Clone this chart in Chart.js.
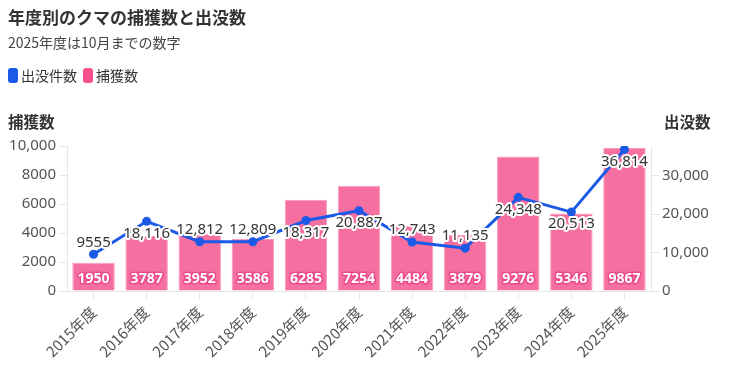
<!DOCTYPE html>
<html><head><meta charset="utf-8">
<script src="https://cdn.jsdelivr.net/npm/chart.js@4/dist/chart.umd.min.js"></script>
<style>
html,body{margin:0;padding:0;background:#fff;}
body{width:738px;height:368px;position:relative;overflow:hidden;font-family:"Noto Sans CJK JP","Noto Sans",sans-serif;color:#333;}
#title{position:absolute;left:8px;top:5px;font-size:17px;font-weight:bold;color:#333;line-height:24px;}
#sub{position:absolute;left:8px;top:32px;font-size:14px;color:#444;line-height:20px;}
#legend{position:absolute;left:8px;top:65px;font-size:14px;color:#333;line-height:20px;display:flex;align-items:center;}
.sw{display:inline-block;width:10px;height:15px;border-radius:3px;margin-right:3px;}
.it{display:flex;align-items:center;margin-right:6px;}
.at{position:absolute;top:111px;font-size:15.5px;font-weight:bold;color:#333;line-height:20px;}
canvas{position:absolute;left:0;top:0;}
</style></head>
<body>
<canvas id="c" width="738" height="368"></canvas>
<div id="title">年度別のクマの捕獲数と出没数</div>
<div id="sub">2025年度は10月までの数字</div>
<div id="legend"><span class="it"><span class="sw" style="background:#1a5ae6"></span>出没件数</span><span class="it"><span class="sw" style="background:#f7508f"></span>捕獲数</span></div>
<div class="at" style="left:8px">捕獲数</div>
<div class="at" style="left:664px">出没数</div>
<script>
const categories = ["2015年度","2016年度","2017年度","2018年度","2019年度","2020年度","2021年度","2022年度","2023年度","2024年度","2025年度"];
const captures = [1950,3787,3952,3586,6285,7254,4484,3879,9276,5346,9867];
const sightings = [9555,18116,12812,12809,18317,20887,12743,11135,24348,20513,36814];
const leftTicks = [0,2000,4000,6000,8000,10000];
const rightTicks = [0,10000,20000,30000];
const sightingLabelSide = ["above","below","above","above","below","below","above","above","below","below","below"];

function fmt(v){ return v >= 10000 ? v.toLocaleString('en-US') : String(v); }

const labelPlugin = {
  id: 'valueLabels',
  afterDatasetsDraw(chart){
    const ctx = chart.ctx;
    ctx.save();
    ctx.textAlign = 'center';
    ctx.textBaseline = 'middle';
    ctx.lineJoin = 'round';
    const barMeta = chart.getDatasetMeta(1);
    ctx.font = 'bold 14px "Noto Sans","DejaVu Sans",sans-serif';
    barMeta.data.forEach((el,i)=>{
      const x = el.x, y = el.base - 11;
      const t = fmt(captures[i]);
      ctx.lineWidth = 3;
      ctx.strokeStyle = '#ec4a86';
      ctx.strokeText(t,x,y);
      ctx.fillStyle = '#ffffff';
      ctx.fillText(t,x,y);
    });
    const lineMeta = chart.getDatasetMeta(0);
    ctx.font = '15px "Noto Sans","DejaVu Sans",sans-serif';
    lineMeta.data.forEach((el,i)=>{
      const x = el.x;
      const y = sightingLabelSide[i] === 'above' ? el.y - 12 : el.y + 12;
      const t = fmt(sightings[i]);
      ctx.lineWidth = 4;
      ctx.strokeStyle = '#ffffff';
      ctx.strokeText(t,x,y);
      ctx.fillStyle = '#333333';
      ctx.fillText(t,x,y);
    });
    ctx.restore();
  }
};

const tickFont = { size:15, family:'"Noto Sans","DejaVu Sans",sans-serif' };

new Chart(document.getElementById('c'), {
  data: {
    labels: categories,
    datasets: [
      { type:'line', label:'出没件数', data: sightings, yAxisID:'y2', borderColor:'#1a5ae6', backgroundColor:'#1a5ae6', borderWidth:3, pointRadius:4.5, pointBackgroundColor:'#1a5ae6', pointBorderWidth:0, tension:0, order:0 },
      { type:'bar', label:'捕獲数', data: captures, yAxisID:'y', backgroundColor:'#f66fa1', borderColor:'#f99cc0', borderWidth:1, categoryPercentage:1, barPercentage:0.8, order:1 }
    ]
  },
  plugins:[labelPlugin],
  options: {
    responsive:false,
    animation:false,
    layout:{ padding:{ top:146, left:0, right:0, bottom:0 } },
    plugins:{ legend:{display:false}, title:{display:false}, tooltip:{enabled:false} },
    scales:{
      x:{
        grid:{ offset:false, drawOnChartArea:false, drawTicks:true, tickLength:8, color:'#e6e6e6' },
        border:{ color:'#e6e6e6' },
        ticks:{ maxRotation:45, minRotation:45, color:'#555', font:{ size:15, family:'"Noto Sans CJK JP","Noto Sans",sans-serif' }, padding:4 },
        afterFit(s){ s.height = 77; }
      },
      y:{
        position:'left', min:0, max:10000,
        grid:{ drawOnChartArea:false, drawTicks:true, tickLength:8, color:'#e6e6e6' },
        border:{ color:'#e6e6e6' },
        ticks:{ color:'#555', font:tickFont, padding:3, callback:(v)=>fmt(v) },
        afterBuildTicks(s){ s.ticks = leftTicks.map(v=>({value:v})); },
        afterFit(s){ s.width = 67; }
      },
      y2:{
        position:'right', min:0, max:37700,
        grid:{ drawOnChartArea:false, drawTicks:true, tickLength:8, color:'#e6e6e6' },
        border:{ color:'#e6e6e6' },
        ticks:{ color:'#555', font:tickFont, padding:3, callback:(v)=>fmt(v) },
        afterBuildTicks(s){ s.ticks = rightTicks.map(v=>({value:v})); },
        afterFit(s){ s.width = 87; }
      }
    }
  }
});
</script>
</body></html>
